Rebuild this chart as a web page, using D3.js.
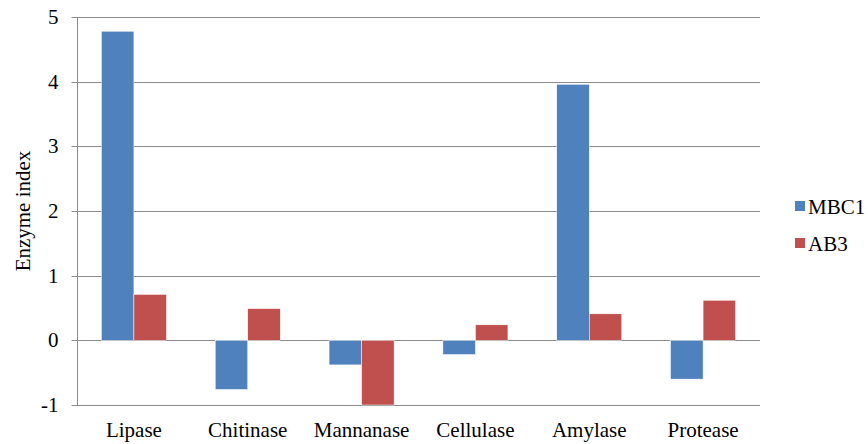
<!DOCTYPE html>
<html><head><meta charset="utf-8">
<script src="https://cdn.jsdelivr.net/npm/d3@7"></script>
<style>body{margin:0;background:#fff}svg{display:block}</style>
</head><body><svg id="c" width="868" height="444"></svg>
<script>
const categories = ["Lipase","Chitinase","Mannanase","Cellulase","Amylase","Protease"];
const seriesNames = ["MBC1","AB3"];
const mbc1 = [4.78, -0.76, -0.38, -0.22, 3.96, -0.60];
const ab3 = [0.71, 0.49, -1.0, 0.24, 0.41, 0.62];
const yTicks = [-1,0,1,2,3,4,5];
const colors = ["#4F81BD","#C0504D"];

(function(){
const svg = d3.select("#c");
const fs = 21;
const FF = '"Liberation Serif"';
const pL = 77, pR = 760, pT = 17, pB = 405;
const x = d3.scaleBand().domain(categories).range([pL, pR]).paddingInner(0.4286).paddingOuter(0.2143);
const x1 = d3.scaleBand().domain(seriesNames).range([0, x.bandwidth()]);
const y = d3.scaleLinear().domain([-1,5]).range([pB, pT]);

// gridlines
svg.append("g").selectAll("line").data(yTicks).join("line")
  .attr("x1", pL).attr("x2", pR)
  .attr("y1", d=>Math.round(y(d))+0.5).attr("y2", d=>Math.round(y(d))+0.5)
  .attr("stroke","#8c8c8c").attr("stroke-width",1);

// y axis
const ya = svg.append("g").attr("transform",`translate(${pL+0.5},0)`)
  .call(d3.axisLeft(y).tickValues(yTicks).tickSize(6).tickPadding(13).tickFormat(d=>String(d)));
ya.attr("font-family", null);
ya.select(".domain").attr("stroke","#8c8c8c").attr("d",`M0,${pT}V${pB}`);
ya.selectAll(".tick line").attr("stroke","#8c8c8c");
ya.selectAll(".tick").attr("transform", d=>`translate(0,${Math.round(y(d))+0.5})`);
ya.selectAll("text").style("font-family",FF).attr("font-size",fs).attr("fill","#000");

// bars
const data = categories.map((c,i)=>({c, vals:[{s:"MBC1",v:mbc1[i]},{s:"AB3",v:ab3[i]}]}));
const g = svg.append("g").selectAll("g").data(data).join("g")
  .attr("transform", d=>`translate(${x(d.c)},0)`);
g.selectAll("rect").data(d=>d.vals).join("rect")
  .attr("x", d=>x1(d.s)).attr("width", x1.bandwidth())
  .attr("y", d=>y(Math.max(0,d.v))).attr("height", d=>Math.abs(y(d.v)-y(0)))
  .attr("fill", (d,i)=>colors[i]).attr("stroke","#fff").attr("stroke-width",0.5);

// category labels
svg.append("g").selectAll("text").data(categories).join("text")
  .attr("x", d=>x(d)+x.bandwidth()/2).attr("y", 437)
  .attr("text-anchor","middle").style("font-family",FF).attr("font-size",fs).text(d=>d);

// y title
svg.append("text").attr("transform",`translate(30,${(pT+pB)/2}) rotate(-90)`)
  .attr("text-anchor","middle").style("font-family",FF).attr("font-size",fs).text("Enzyme index");

// legend
const lg = svg.append("g").selectAll("g").data(seriesNames).join("g")
  .attr("transform",(d,i)=>`translate(795,${201+i*37})`);
lg.append("rect").attr("width",10).attr("height",10).attr("fill",(d,i)=>colors[i]);
lg.append("text").attr("x",13).attr("y",13).style("font-family",FF).attr("font-size",fs).text(d=>d);
})();
</script></body></html>
